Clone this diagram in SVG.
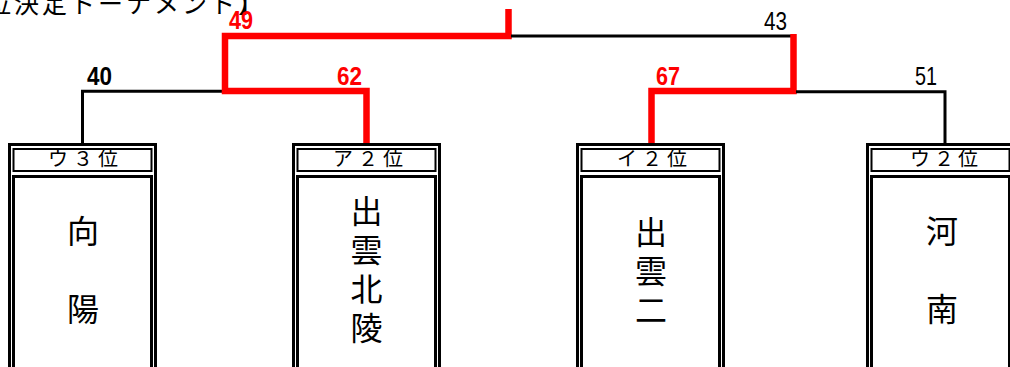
<svg xmlns="http://www.w3.org/2000/svg" width="1010" height="367" viewBox="0 0 1010 367">
<style>
.bg{fill:#fff}
.outer{fill:none;stroke:#000;stroke-width:3}
.hdr{fill:none;stroke:#000;stroke-width:2}
.body{fill:none;stroke:#000;stroke-width:3}
.jp{font-family:"Noto Sans CJK JP","Noto Sans",sans-serif;fill:#000}
.h{font-size:20px;text-anchor:middle}
.n{font-size:32px;text-anchor:middle}
.num{font-family:"Liberation Sans",Arial,sans-serif;font-size:25px}
.b{font-weight:bold}
.red{fill:#ff0000}
.blk{fill:#000}
.wl{fill:none;stroke:#ff0000;stroke-width:6.5;stroke-linejoin:miter}
.ll{fill:none;stroke:#000;stroke-width:3;stroke-linejoin:miter}
</style>
<rect class="bg" x="0" y="0" width="1010" height="367"/>
<text class="jp" x="-14" y="13" font-size="25" textLength="277" lengthAdjust="spacing">位決定トーナメント】</text>
<g id="connectors">
<path class="ll" d="M82.5 143 V91.3 H222"/>
<path class="wl" d="M366.5 143 V91 H225 V36 H508.5 V9"/>
<path class="ll" d="M511 36 H791" stroke-width="2.5"/>
<path class="wl" d="M651.5 143 V91 H793.5 V34"/>
<path class="ll" d="M796 91.8 H945 V143" stroke-width="2.5"/>
<text class="num b red" x="229" y="29" textLength="24" lengthAdjust="spacingAndGlyphs">49</text>
<text class="num blk" x="764" y="30" textLength="23" lengthAdjust="spacingAndGlyphs">43</text>
<text class="num b blk" x="87" y="85" textLength="25" lengthAdjust="spacingAndGlyphs">40</text>
<text class="num b red" x="337" y="85" textLength="25" lengthAdjust="spacingAndGlyphs">62</text>
<text class="num b red" x="656" y="85" textLength="24" lengthAdjust="spacingAndGlyphs">67</text>
<text class="num blk" x="915" y="85" textLength="22" lengthAdjust="spacingAndGlyphs">51</text>
</g>
<g id="team-koyo">
<rect class="outer" x="9.5" y="144.5" width="146" height="260"/>
<rect class="hdr" x="13.5" y="149" width="138" height="22"/>
<rect class="body" x="13.5" y="176.5" width="138" height="230"/>
<text class="jp h" x="83" y="166" textLength="70" lengthAdjust="spacing">ウ３位</text>
<text class="jp n"><tspan x="83" y="243">向</tspan><tspan x="83" y="321">陽</tspan></text>
</g>
<g id="team-izumokitaryo">
<rect class="outer" x="293.5" y="144.5" width="146" height="260"/>
<rect class="hdr" x="297.5" y="149" width="138" height="22"/>
<rect class="body" x="297.5" y="176.5" width="138" height="230"/>
<text class="jp h" x="368" y="166" textLength="70" lengthAdjust="spacing">ア２位</text>
<text class="jp n"><tspan x="366.5" y="223">出</tspan><tspan x="366.5" y="262">雲</tspan><tspan x="366.5" y="301">北</tspan><tspan x="366.5" y="340">陵</tspan></text>
</g>
<g id="team-izumoni">
<rect class="outer" x="577.5" y="144.5" width="146" height="260"/>
<rect class="hdr" x="581.5" y="149" width="138" height="22"/>
<rect class="body" x="581.5" y="176.5" width="138" height="230"/>
<text class="jp h" x="652" y="166" textLength="70" lengthAdjust="spacing">イ２位</text>
<text class="jp n"><tspan x="651" y="244">出</tspan><tspan x="651" y="283">雲</tspan><tspan x="651" y="322">二</tspan></text>
</g>
<g id="team-kanan">
<rect class="outer" x="867.5" y="144.5" width="146" height="260"/>
<rect class="hdr" x="871.5" y="149" width="138" height="22"/>
<rect class="body" x="871.5" y="176.5" width="138" height="230"/>
<text class="jp h" x="944" y="166" textLength="68" lengthAdjust="spacing">ウ２位</text>
<text class="jp n"><tspan x="942" y="243">河</tspan><tspan x="942" y="321">南</tspan></text>
</g>
</svg>
